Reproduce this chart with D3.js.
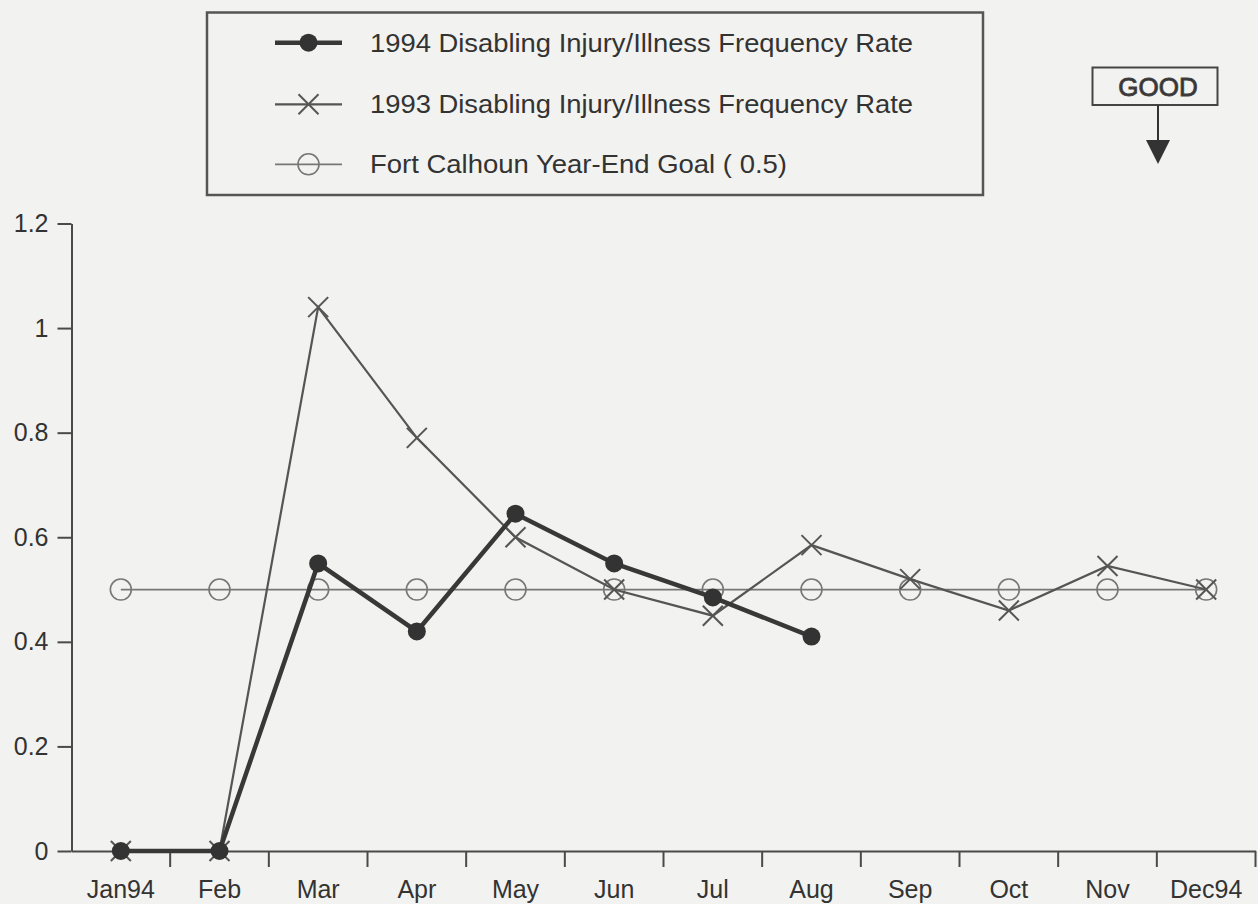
<!DOCTYPE html>
<html>
<head>
<meta charset="utf-8">
<script src="https://cdn.jsdelivr.net/npm/d3@7"></script>
<style>
  html, body { margin: 0; padding: 0; background: #f2f2f0; }
  svg { display: block; }
  text { font-family: "Liberation Sans", Arial, Helvetica, sans-serif; fill: #333; }
</style>
</head>
<body>
<svg id="chart" width="1258" height="904"></svg>
<script>
// ---- data ----
const months = ["Jan94","Feb","Mar","Apr","May","Jun","Jul","Aug","Sep","Oct","Nov","Dec94"];
const rate1994 = [0, 0, 0.55, 0.42, 0.645, 0.55, 0.485, 0.41];
const rate1993 = [0, 0, 1.04, 0.79, 0.60, 0.50, 0.45, 0.585, 0.52, 0.46, 0.545, 0.50];
const goal = [0.5, 0.5, 0.5, 0.5, 0.5, 0.5, 0.5, 0.5, 0.5, 0.5, 0.5, 0.5];
const yTicks = [0, 0.2, 0.4, 0.6, 0.8, 1, 1.2];
const yTickLabels = ["0", "0.2", "0.4", "0.6", "0.8", "1", "1.2"];
const legendLabels = [
  "1994 Disabling Injury/Illness Frequency Rate",
  "1993 Disabling Injury/Illness Frequency Rate",
  "Fort Calhoun Year-End Goal ( 0.5)"
];
const goodLabel = "GOOD";

// ---- setup ----
const svg = d3.select("#chart");
svg.append("rect").attr("width", 1258).attr("height", 904).attr("fill", "#f2f2f0");

const x = d3.scaleBand().domain(months).range([71.5, 1255.5]).padding(0);
const y = d3.scaleLinear().domain([0, 1.2]).range([851, 223.5]);
const cx = m => x(m) + x.bandwidth() / 2;

const axisColor = "#4a4a4a";

// Y axis
const yAxis = svg.append("g")
  .attr("transform", "translate(71.5,0)")
  .call(d3.axisLeft(y).tickValues(yTicks).tickFormat((d, i) => yTickLabels[i])
        .tickSize(14).tickSizeOuter(0).tickPadding(9));
yAxis.select(".domain").attr("stroke", axisColor).attr("stroke-width", 2);
yAxis.selectAll(".tick line").attr("stroke", axisColor).attr("stroke-width", 2);
yAxis.selectAll(".tick text").attr("font-size", 25).attr("fill", "#333")
  .attr("font-family", "Liberation Sans, Arial, sans-serif");

// X axis (labels at band centres, ticks at band boundaries)
const xAxis = svg.append("g")
  .attr("transform", "translate(0,851)")
  .call(d3.axisBottom(x).tickSize(0).tickSizeOuter(0).tickPadding(29));
xAxis.select(".domain").attr("stroke", axisColor).attr("stroke-width", 2);
xAxis.selectAll(".tick text").attr("font-size", 25).attr("fill", "#333")
  .attr("font-family", "Liberation Sans, Arial, sans-serif");

const boundaries = months.slice(1).map(m => x(m)).concat([x.range()[1]]);
svg.append("g").selectAll("line").data(boundaries).join("line")
  .attr("x1", d => d).attr("x2", d => d)
  .attr("y1", 851).attr("y2", 867)
  .attr("stroke", axisColor).attr("stroke-width", 2);

// ---- series ----
const line = d3.line().x((d, i) => cx(months[i])).y(d => y(d));

// Goal
svg.append("path").datum(goal).attr("d", line)
  .attr("fill", "none").attr("stroke", "#777").attr("stroke-width", 1.8);
svg.append("g").selectAll("circle").data(goal).join("circle")
  .attr("cx", (d, i) => cx(months[i])).attr("cy", d => y(d)).attr("r", 10.5)
  .attr("fill", "none").attr("stroke", "#777").attr("stroke-width", 1.6);

// 1993
svg.append("path").datum(rate1993).attr("d", line)
  .attr("fill", "none").attr("stroke", "#555").attr("stroke-width", 2.2);
const xm = svg.append("g").selectAll("g").data(rate1993).join("g")
  .attr("transform", (d, i) => `translate(${cx(months[i])},${y(d)})`);
const s = 10;
xm.append("line").attr("x1", -s).attr("y1", -s).attr("x2", s).attr("y2", s)
  .attr("stroke", "#555").attr("stroke-width", 2);
xm.append("line").attr("x1", -s).attr("y1", s).attr("x2", s).attr("y2", -s)
  .attr("stroke", "#555").attr("stroke-width", 2);

// 1994
svg.append("path").datum(rate1994).attr("d", line)
  .attr("fill", "none").attr("stroke", "#383838").attr("stroke-width", 4.5);
svg.append("g").selectAll("circle").data(rate1994).join("circle")
  .attr("cx", (d, i) => cx(months[i])).attr("cy", d => y(d)).attr("r", 9)
  .attr("fill", "#333");

// ---- legend ----
const lg = svg.append("g");
lg.append("rect").attr("x", 207).attr("y", 12.5).attr("width", 776).attr("height", 182.5)
  .attr("fill", "none").attr("stroke", "#555").attr("stroke-width", 2.5);
const rowY = [42.7, 104.3, 164.3];
const lx1 = 275, lx2 = 342, lmx = 308.5;
// row 1
lg.append("line").attr("x1", lx1).attr("x2", lx2).attr("y1", rowY[0]).attr("y2", rowY[0])
  .attr("stroke", "#383838").attr("stroke-width", 4.5);
lg.append("circle").attr("cx", lmx).attr("cy", rowY[0]).attr("r", 9).attr("fill", "#333");
// row 2
lg.append("line").attr("x1", lx1).attr("x2", lx2).attr("y1", rowY[1]).attr("y2", rowY[1])
  .attr("stroke", "#555").attr("stroke-width", 2.2);
lg.append("line").attr("x1", lmx - s).attr("y1", rowY[1] - s).attr("x2", lmx + s).attr("y2", rowY[1] + s)
  .attr("stroke", "#555").attr("stroke-width", 2);
lg.append("line").attr("x1", lmx - s).attr("y1", rowY[1] + s).attr("x2", lmx + s).attr("y2", rowY[1] - s)
  .attr("stroke", "#555").attr("stroke-width", 2);
// row 3
lg.append("line").attr("x1", lx1).attr("x2", lx2).attr("y1", rowY[2]).attr("y2", rowY[2])
  .attr("stroke", "#777").attr("stroke-width", 1.8);
lg.append("circle").attr("cx", lmx).attr("cy", rowY[2]).attr("r", 10.5)
  .attr("fill", "none").attr("stroke", "#777").attr("stroke-width", 1.6);
const textLens = [543, 543, 417];
lg.selectAll("text.lbl").data(legendLabels).join("text").attr("class", "lbl")
  .attr("x", 370).attr("y", (d, i) => rowY[i] + 9)
  .attr("font-size", 25)
  .attr("textLength", (d, i) => textLens[i]).attr("lengthAdjust", "spacingAndGlyphs")
  .text(d => d);

// ---- GOOD indicator ----
const gg = svg.append("g");
gg.append("rect").attr("x", 1092.5).attr("y", 67.5).attr("width", 125).attr("height", 37.5)
  .attr("fill", "none").attr("stroke", "#444").attr("stroke-width", 2);
gg.append("text").attr("x", 1158).attr("y", 96).attr("text-anchor", "middle")
  .attr("font-size", 26).attr("fill", "none").attr("stroke", "#444").attr("stroke-width", 0.9)
  .text(goodLabel);
gg.append("line").attr("x1", 1158).attr("x2", 1158).attr("y1", 105).attr("y2", 141)
  .attr("stroke", "#333").attr("stroke-width", 2);
gg.append("path").attr("d", "M1146,140 L1170,140 L1158,164 Z").attr("fill", "#333");
</script>
</body>
</html>
